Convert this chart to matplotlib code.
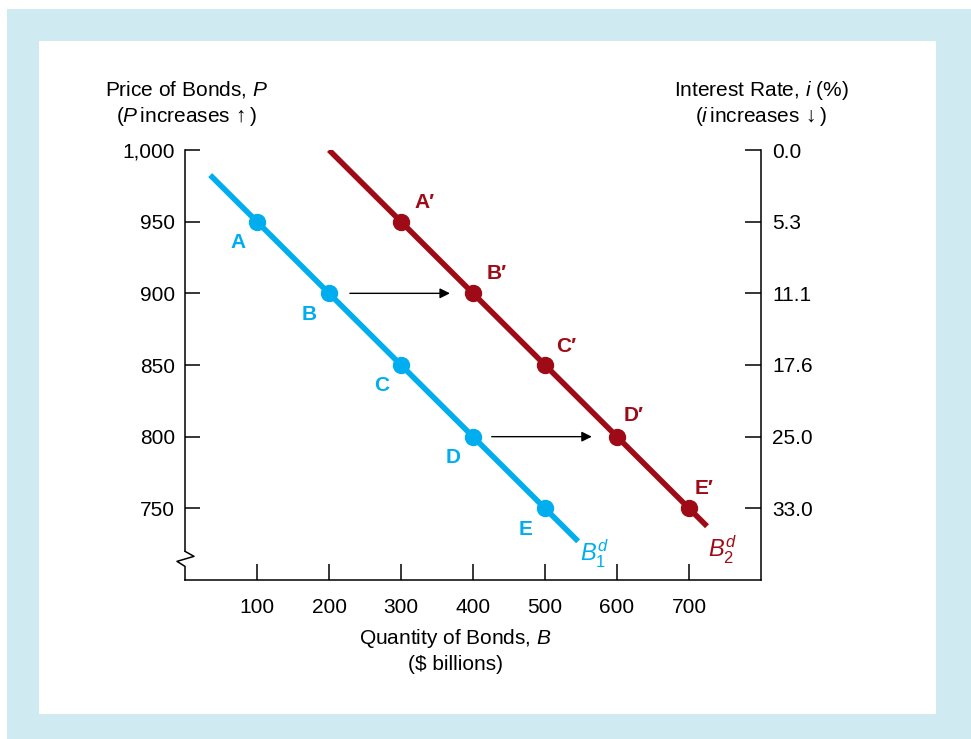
import matplotlib
matplotlib.use('Agg')
import matplotlib.pyplot as plt
from matplotlib.patches import Rectangle

plt.rcParams['font.family'] = ['Liberation Sans', 'DejaVu Sans']
plt.rcParams['mathtext.fontset'] = 'custom'
plt.rcParams['mathtext.rm'] = 'Liberation Sans'
plt.rcParams['mathtext.it'] = 'Liberation Sans:italic'

# demand curve B1 (quantity, price)
b1_x = [35, 100, 200, 300, 400, 500, 546]
b1_y = [982.5, 950, 900, 850, 800, 750, 727]
b1_pts_x = [100, 200, 300, 400, 500]
b1_pts_y = [950, 900, 850, 800, 750]
b1_names = ['A', 'B', 'C', 'D', 'E']

# demand curve B2
b2_x = [200, 300, 400, 500, 600, 700, 725]
b2_y = [1000, 950, 900, 850, 800, 750, 737.5]
b2_pts_x = [300, 400, 500, 600, 700]
b2_pts_y = [950, 900, 850, 800, 750]
b2_names = ["A\u2032", "B\u2032", "C\u2032", "D\u2032", "E\u2032"]
b2_offsets = [(17, 14), (17, 14), (15, 13), (12, 15), (11, 14)]

# shift arrows
arrow_start = [229, 426]
arrow_end = [368, 565]
arrow_y = [900, 800]

price_ticks = [1000, 950, 900, 850, 800, 750]
price_labels = ['1,000', '950', '900', '850', '800', '750']
rate_labels = ['0.0', '5.3', '11.1', '17.6', '25.0', '33.0']
qty_ticks = [100, 200, 300, 400, 500, 600, 700]

blue = '#00aeef'
red = '#9e0b16'
fs = 15

fig = plt.figure(figsize=(9.71, 7.39), dpi=100)
fig.patches.append(Rectangle((7/971, 0), 1, 1 - 9/739, transform=fig.transFigure,
                             facecolor='#cfeaf0', edgecolor='none', zorder=-2))
fig.patches.append(Rectangle((39/971, 1 - 714/739), (936-39)/971, (714-41)/739,
                             transform=fig.transFigure, facecolor='white',
                             edgecolor='none', zorder=-1))

ax = fig.add_axes([185/971, 1 - 580/739, 576/971, 430/739])
ax.set_facecolor('none')
ax.set_xlim(0, 800)
ax.set_ylim(700, 1000)

ax.plot(b1_x, b1_y, color=blue, lw=4, solid_capstyle='butt')
ax.plot(b1_pts_x, b1_pts_y, 'o', color=blue, ms=11.5)
for x, y, n in zip(b1_pts_x, b1_pts_y, b1_names):
    ax.annotate(n, (x, y), xytext=(-14, -15), textcoords='offset points',
                ha='center', va='center', color=blue, fontsize=fs, fontweight='bold')

ax.plot(b2_x, b2_y, color=red, lw=4, solid_capstyle='butt')
ax.plot(b2_pts_x, b2_pts_y, 'o', color=red, ms=11.5)
for x, y, n, off in zip(b2_pts_x, b2_pts_y, b2_names, b2_offsets):
    ax.annotate(n, (x, y), xytext=off, textcoords='offset points',
                ha='center', va='center', color=red, fontsize=fs, fontweight='bold')

for x0, x1, y in zip(arrow_start, arrow_end, arrow_y):
    ax.annotate('', xy=(x1, y), xytext=(x0, y),
                arrowprops=dict(arrowstyle='-|>', color='black', lw=1,
                                mutation_scale=15, shrinkA=0, shrinkB=0))

ax.text(569, 718, r'$B^d_1$', color=blue, fontsize=17, ha='center', va='center')
ax.text(746, 721, r'$B^d_2$', color=red, fontsize=17, ha='center', va='center')

# spines
ax.spines['top'].set_visible(False)
ax.spines['left'].set_bounds(720, 1000)
for s in ['left', 'right', 'bottom']:
    ax.spines[s].set_linewidth(1.1)
zx = [0, 0.0156, -0.0139, 0, 0]
zy = [720, 716.5, 713, 709.5, 700]
ax.plot(zx, zy, color='black', lw=1.1, clip_on=False,
        transform=ax.get_yaxis_transform())

ax.set_yticks(price_ticks)
ax.set_yticklabels(price_labels)
ax.set_xticks(qty_ticks)
ax.tick_params(axis='y', direction='in', length=11, width=1.1, pad=7, labelsize=fs)
ax.tick_params(axis='x', direction='in', length=11.5, width=1.1, pad=13, labelsize=fs)

ax2 = ax.twinx()
ax2.set_ylim(700, 1000)
ax2.set_yticks(price_ticks)
ax2.set_yticklabels(rate_labels)
ax2.tick_params(axis='y', direction='in', length=11.5, width=1.1, pad=8, labelsize=fs)
for s in ['top', 'left', 'bottom', 'right']:
    ax2.spines[s].set_visible(False)

fig.text(187/971, 1 - 90/739, 'Price of Bonds, $P$', ha='center', va='center', fontsize=fs)
fig.text(187/971, 1 - 116/739, r'($P\,$increases$\,\uparrow$)', ha='center', va='center', fontsize=fs)
fig.text(761/971, 1 - 90/739, 'Interest Rate, $i$ (%)', ha='center', va='center', fontsize=fs)
fig.text(761/971, 1 - 116/739, r'($i\,$increases$\,\downarrow$)', ha='center', va='center', fontsize=fs)
fig.text(455/971, 1 - 638/739, 'Quantity of Bonds, $B$', ha='center', va='center', fontsize=fs)
fig.text(455/971, 1 - 664/739, '(\\$ billions)', ha='center', va='center', fontsize=fs)

fig.savefig('out.png', dpi=100, facecolor='white')
